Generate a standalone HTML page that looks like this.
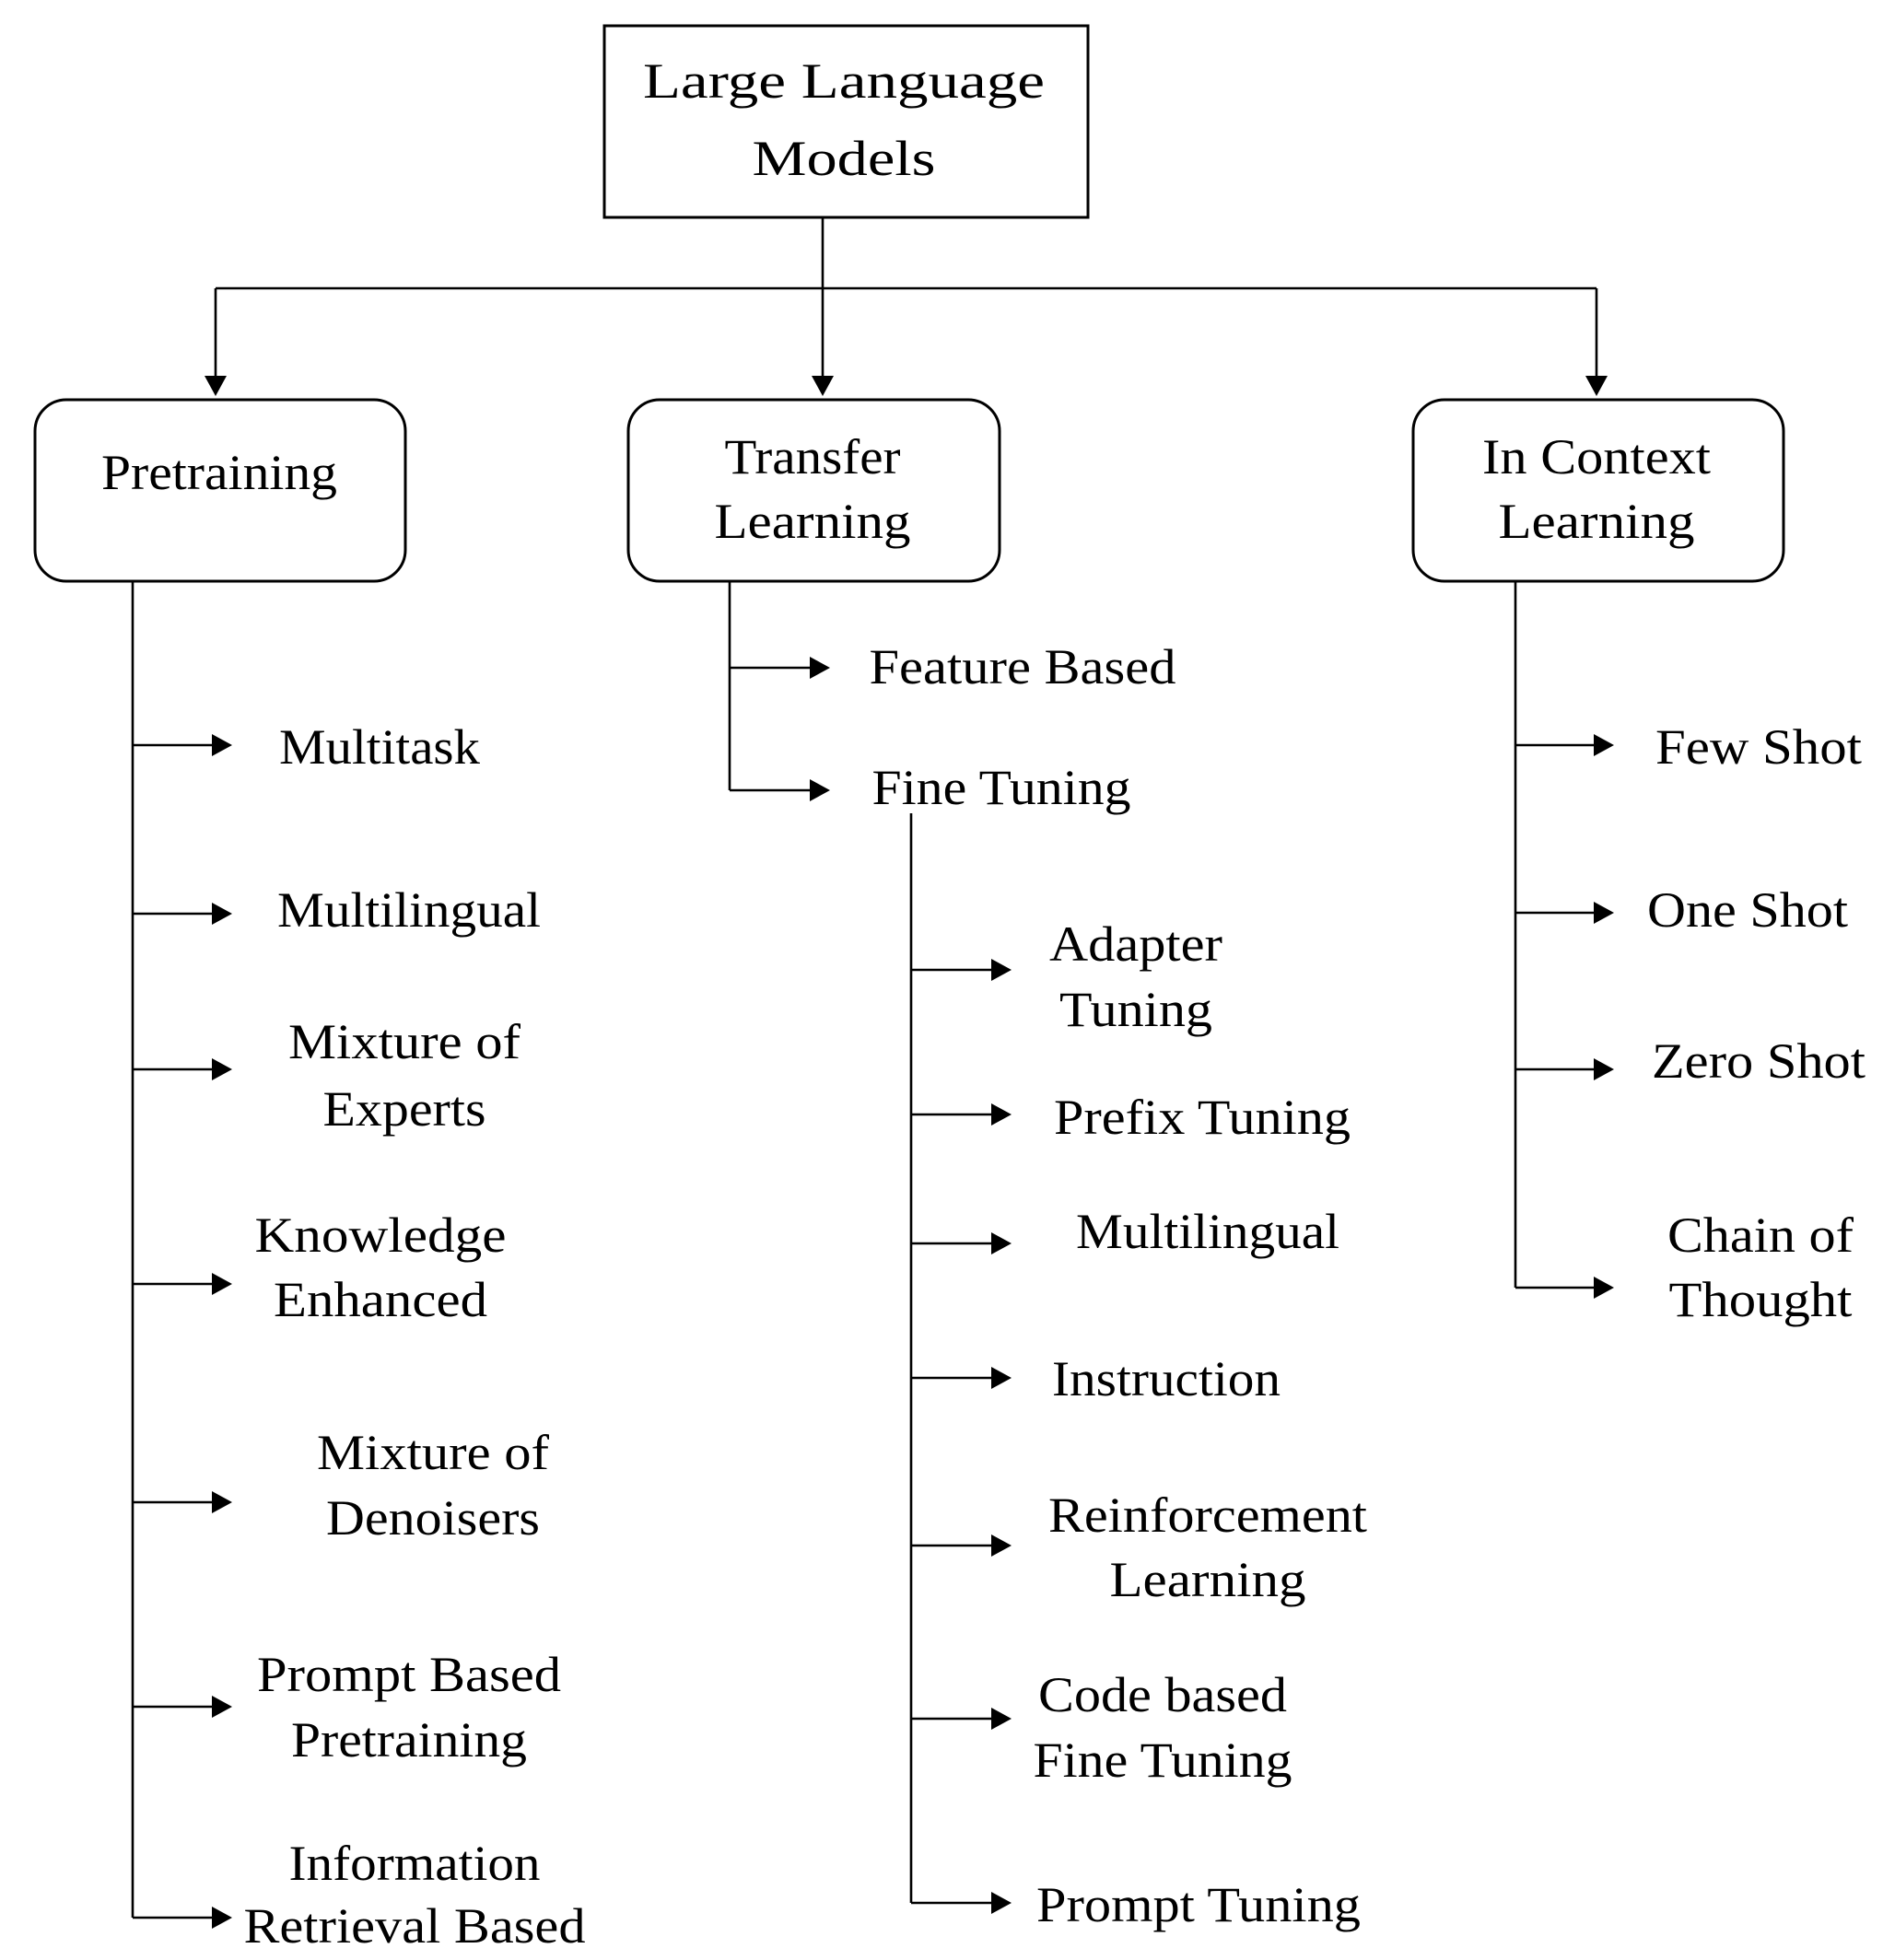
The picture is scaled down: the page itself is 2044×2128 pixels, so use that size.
<!DOCTYPE html>
<html><head><meta charset="utf-8"><style>html,body{margin:0;padding:0;background:#fff}svg{display:block}</style></head>
<body>
<svg width="2044" height="2128" viewBox="0 0 2044 2128" xmlns="http://www.w3.org/2000/svg" font-family="Liberation Serif, serif" font-size="54" fill="#000">
<defs>
<marker id="a" markerWidth="10" markerHeight="10" refX="9" refY="5" orient="auto" markerUnits="userSpaceOnUse" viewBox="0 0 10 10"><path d="M0,0 L10,5 L0,10 z"/></marker>
</defs>
<g stroke="#000" fill="none" stroke-width="2.6">
<rect x="656" y="28" width="525" height="208" stroke-width="3"/>
<rect x="38" y="434" width="402" height="197" rx="34" stroke-width="3"/>
<rect x="682" y="434" width="403" height="197" rx="34" stroke-width="3"/>
<rect x="1534" y="434" width="402" height="197" rx="34" stroke-width="3"/>
<path d="M893,236 V313 M234,313 H1733 M234,313 V410 M893,313 V410 M1733,313 V410"/>
<path d="M144,631 V2082 M792,631 V858 M989,883 V2066 M1645,631 V1398"/>
</g>
<g fill="#000">
<path d="M222,408 L246,408 L234,430 z"/>
<path d="M881,408 L905,408 L893,430 z"/>
<path d="M1721,408 L1745,408 L1733,430 z"/>
</g>
<g stroke="#000" stroke-width="2.6">
<g id="pa">
<line x1="144" y1="809" x2="234" y2="809"/><line x1="144" y1="992" x2="234" y2="992"/><line x1="144" y1="1161" x2="234" y2="1161"/><line x1="144" y1="1394" x2="234" y2="1394"/><line x1="144" y1="1631" x2="234" y2="1631"/><line x1="144" y1="1853" x2="234" y2="1853"/><line x1="144" y1="2082" x2="234" y2="2082"/>
<line x1="792" y1="725" x2="882" y2="725"/><line x1="792" y1="858" x2="882" y2="858"/>
<line x1="989" y1="1053" x2="1080" y2="1053"/><line x1="989" y1="1210" x2="1080" y2="1210"/><line x1="989" y1="1350" x2="1080" y2="1350"/><line x1="989" y1="1496" x2="1080" y2="1496"/><line x1="989" y1="1678" x2="1080" y2="1678"/><line x1="989" y1="1866" x2="1080" y2="1866"/><line x1="989" y1="2066" x2="1080" y2="2066"/>
<line x1="1645" y1="809" x2="1734" y2="809"/><line x1="1645" y1="991" x2="1734" y2="991"/><line x1="1645" y1="1161" x2="1734" y2="1161"/><line x1="1645" y1="1398" x2="1734" y2="1398"/>
</g>
</g>
<g fill="#000">
<path d="M230,797 L252,809 L230,821 z"/><path d="M230,980 L252,992 L230,1004 z"/><path d="M230,1149 L252,1161 L230,1173 z"/><path d="M230,1382 L252,1394 L230,1406 z"/><path d="M230,1619 L252,1631 L230,1643 z"/><path d="M230,1841 L252,1853 L230,1865 z"/><path d="M230,2070 L252,2082 L230,2094 z"/>
<path d="M879,713 L901,725 L879,737 z"/><path d="M879,846 L901,858 L879,870 z"/>
<path d="M1076,1041 L1098,1053 L1076,1065 z"/><path d="M1076,1198 L1098,1210 L1076,1222 z"/><path d="M1076,1338 L1098,1350 L1076,1362 z"/><path d="M1076,1484 L1098,1496 L1076,1508 z"/><path d="M1076,1666 L1098,1678 L1076,1690 z"/><path d="M1076,1854 L1098,1866 L1076,1878 z"/><path d="M1076,2054 L1098,2066 L1076,2078 z"/>
<path d="M1730,797 L1752,809 L1730,821 z"/><path d="M1730,979 L1752,991 L1730,1003 z"/><path d="M1730,1149 L1752,1161 L1730,1173 z"/><path d="M1730,1386 L1752,1398 L1730,1410 z"/>
</g>
<g text-anchor="middle" lengthAdjust="spacingAndGlyphs">
<text x="916" y="106" textLength="436" lengthAdjust="spacingAndGlyphs">Large Language</text>
<text x="916" y="190" textLength="199" lengthAdjust="spacingAndGlyphs">Models</text>
<text x="238" y="531" textLength="256" lengthAdjust="spacingAndGlyphs">Pretraining</text>
<text x="882" y="514" textLength="191" lengthAdjust="spacingAndGlyphs">Transfer</text>
<text x="882" y="584" textLength="213" lengthAdjust="spacingAndGlyphs">Learning</text>
<text x="1733" y="514" textLength="248" lengthAdjust="spacingAndGlyphs">In Context</text>
<text x="1733" y="584" textLength="213" lengthAdjust="spacingAndGlyphs">Learning</text>

<text x="412" y="829" textLength="218" lengthAdjust="spacingAndGlyphs">Multitask</text>
<text x="444" y="1006" textLength="286" lengthAdjust="spacingAndGlyphs">Multilingual</text>
<text x="439" y="1149" textLength="252" lengthAdjust="spacingAndGlyphs">Mixture of</text>
<text x="439" y="1222" textLength="177" lengthAdjust="spacingAndGlyphs">Experts</text>
<text x="413" y="1359" textLength="273" lengthAdjust="spacingAndGlyphs">Knowledge</text>
<text x="413" y="1429" textLength="232" lengthAdjust="spacingAndGlyphs">Enhanced</text>
<text x="470" y="1595" textLength="252" lengthAdjust="spacingAndGlyphs">Mixture of</text>
<text x="470" y="1666" textLength="232" lengthAdjust="spacingAndGlyphs">Denoisers</text>
<text x="444" y="1836" textLength="330" lengthAdjust="spacingAndGlyphs">Prompt Based</text>
<text x="444" y="1907" textLength="256" lengthAdjust="spacingAndGlyphs">Pretraining</text>
<text x="450" y="2041" textLength="273" lengthAdjust="spacingAndGlyphs">Information</text>
<text x="450" y="2109" textLength="371" lengthAdjust="spacingAndGlyphs">Retrieval Based</text>

<text x="1110" y="742" textLength="333" lengthAdjust="spacingAndGlyphs">Feature Based</text>
<text x="1087" y="873" textLength="281" lengthAdjust="spacingAndGlyphs">Fine Tuning</text>

<text x="1233" y="1043" textLength="188" lengthAdjust="spacingAndGlyphs">Adapter</text>
<text x="1233" y="1114" textLength="166" lengthAdjust="spacingAndGlyphs">Tuning</text>
<text x="1305" y="1231" textLength="322" lengthAdjust="spacingAndGlyphs">Prefix Tuning</text>
<text x="1311" y="1355" textLength="286" lengthAdjust="spacingAndGlyphs">Multilingual</text>
<text x="1266" y="1515" textLength="248" lengthAdjust="spacingAndGlyphs">Instruction</text>
<text x="1311" y="1663" textLength="346" lengthAdjust="spacingAndGlyphs">Reinforcement</text>
<text x="1311" y="1733" textLength="213" lengthAdjust="spacingAndGlyphs">Learning</text>
<text x="1262" y="1858" textLength="270" lengthAdjust="spacingAndGlyphs">Code based</text>
<text x="1262" y="1929" textLength="281" lengthAdjust="spacingAndGlyphs">Fine Tuning</text>
<text x="1301" y="2086" textLength="352" lengthAdjust="spacingAndGlyphs">Prompt Tuning</text>

<text x="1909" y="829" textLength="224" lengthAdjust="spacingAndGlyphs">Few Shot</text>
<text x="1897" y="1006" textLength="218" lengthAdjust="spacingAndGlyphs">One Shot</text>
<text x="1909" y="1170" textLength="232" lengthAdjust="spacingAndGlyphs">Zero Shot</text>
<text x="1911" y="1359" textLength="202" lengthAdjust="spacingAndGlyphs">Chain of</text>
<text x="1911" y="1429" textLength="199" lengthAdjust="spacingAndGlyphs">Thought</text>
</g>
</svg>
</body></html>
